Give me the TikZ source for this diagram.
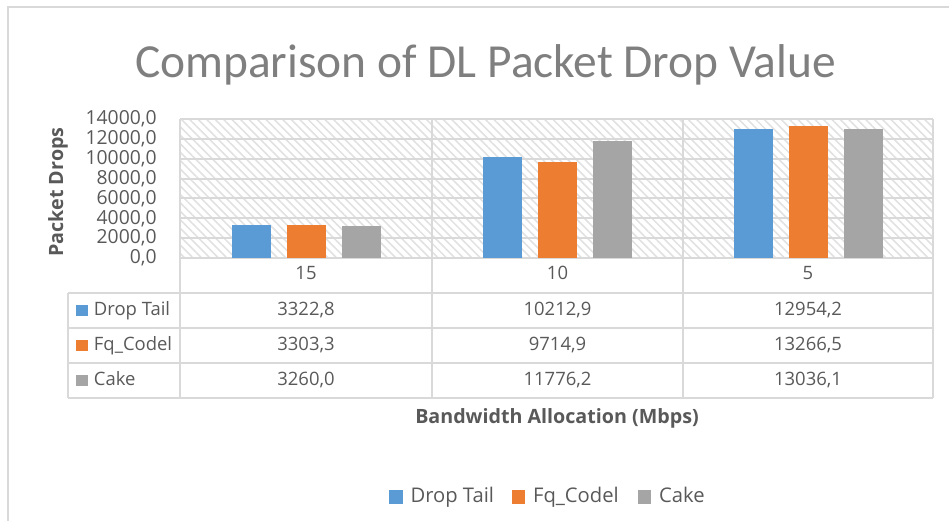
\documentclass[tikz,border=0pt]{standalone}
\usepackage{fontspec}
\setmainfont{Open Sans}
\newfontfamily\titlefont{Carlito}
\usetikzlibrary{positioning,patterns.meta}

\definecolor{droptail}{HTML}{5B9BD5}
\definecolor{fqcodel}{HTML}{ED7D31}
\definecolor{cake}{HTML}{A5A5A5}
\definecolor{txtgray}{HTML}{595959}
\definecolor{titlegray}{HTML}{7F7F7F}
\definecolor{gridgray}{HTML}{D9D9D9}

\begin{document}
\begin{tikzpicture}[
  x=0.02cm, y=-0.02cm,
  gridline/.style={draw=gridgray, line width=1.1pt},
  tick/.style={anchor=east, text=txtgray, font=\fontsize{11}{12}\selectfont, inner sep=0pt},
  valtxt/.style={text=txtgray, font=\fontsize{10.5}{12}\selectfont, inner sep=0pt, text height=7.6pt, text depth=2.4pt},
  rowkey/.style={minimum size=6.8pt, inner sep=0pt},
  legkey/.style={minimum size=7.8pt, inner sep=0pt},
  legtxt/.style={text=txtgray, font=\fontsize{11.5}{13}\selectfont, inner sep=0pt, anchor=west, text height=8.3pt, text depth=2.6pt},
  axtitle/.style={text=txtgray, font=\bfseries\fontsize{11.2}{13}\selectfont, inner sep=0pt}
]
  \useasboundingbox (0,0) rectangle (949,521);
  \draw[gridline] (8,521) -- (8,7) -- (949,7);

  \node[text=titlegray, font=\titlefont\fontsize{27}{31}\selectfont, anchor=base] (title) at (485.5,77) {Comparison of DL Packet Drop Value};

  % plot area and grid
  \fill[pattern={Lines[angle=-45, distance=3.4pt, line width=0.9pt]}, pattern color=gridgray!80] (180,119) rectangle (933,258);
  \foreach \k in {0,...,7} {
    \draw[gridline] (180,{258-\k*19.857}) -- (933,{258-\k*19.857});
    \pgfmathtruncatemacro{\lbl}{\k*2000}
    \node[tick] (t\k) at (157,{258-\k*19.857}) {\lbl,0};
  }
  \node[axtitle, rotate=90] (ylab) at (58,192) {Packet Drops};

  % data table lines
  \foreach \x in {180,432,683,933}
    \draw[gridline] (\x,119) -- (\x,398);
  \foreach \y in {293,328,363,398}
    \draw[gridline] (68,\y) -- (933,\y);
  \draw[gridline] (68,293) -- (68,398);

  \node[valtxt] (c15) at (306,275) {15};
  \node[valtxt] (c10) at (557.5,275) {10};
  \node[valtxt] (c5) at (808,275) {5};

  % series: bars and table values
  \foreach \cx/\v/\txt [count=\i] in {306/3322.8/{3322,8}, 557.5/10212.9/{10212,9}, 808/12954.2/{12954,2}} {
    \fill[droptail] (\cx-74.5,{258-\v*0.009929}) rectangle (\cx-35.5,258);
    \node[valtxt] (dt\i) at (\cx,310.5) {\txt};
  }
  \foreach \cx/\v/\txt [count=\i] in {306/3303.3/{3303,3}, 557.5/9714.9/{9714,9}, 808/13266.5/{13266,5}} {
    \fill[fqcodel] (\cx-19.5,{258-\v*0.009929}) rectangle (\cx+19.5,258);
    \node[valtxt] (fq\i) at (\cx,345.5) {\txt};
  }
  \foreach \cx/\v/\txt [count=\i] in {306/3260.0/{3260,0}, 557.5/11776.2/{11776,2}, 808/13036.1/{13036,1}} {
    \fill[cake] (\cx+35.5,{258-\v*0.009929}) rectangle (\cx+74.5,258);
    \node[valtxt] (ck\i) at (\cx,380.5) {\txt};
  }

  % row headers
  \foreach \col/\name/\y [count=\r] in {droptail/Drop Tail/310.5, fqcodel/Fq\_Codel/345.5, cake/Cake/380.5} {
    \node[rowkey, fill=\col] (rk\r) at (82,\y) {};
    \node[valtxt, anchor=west, right=3pt of rk\r] (rn\r) {\name};
  }

  \node[axtitle] (xlab) at (557,418) {Bandwidth Allocation (Mbps)};

  % legend
  \node[legkey, fill=droptail] (lk1) at (396,497) {};
  \node[legtxt, right=4pt of lk1] (ln1) {Drop Tail};
  \node[legkey, fill=fqcodel] (lk2) at (518.5,497) {};
  \node[legtxt, right=4pt of lk2] (ln2) {Fq\_Codel};
  \node[legkey, fill=cake] (lk3) at (644.5,497) {};
  \node[legtxt, right=4pt of lk3] (ln3) {Cake};
\end{tikzpicture}
\end{document}
